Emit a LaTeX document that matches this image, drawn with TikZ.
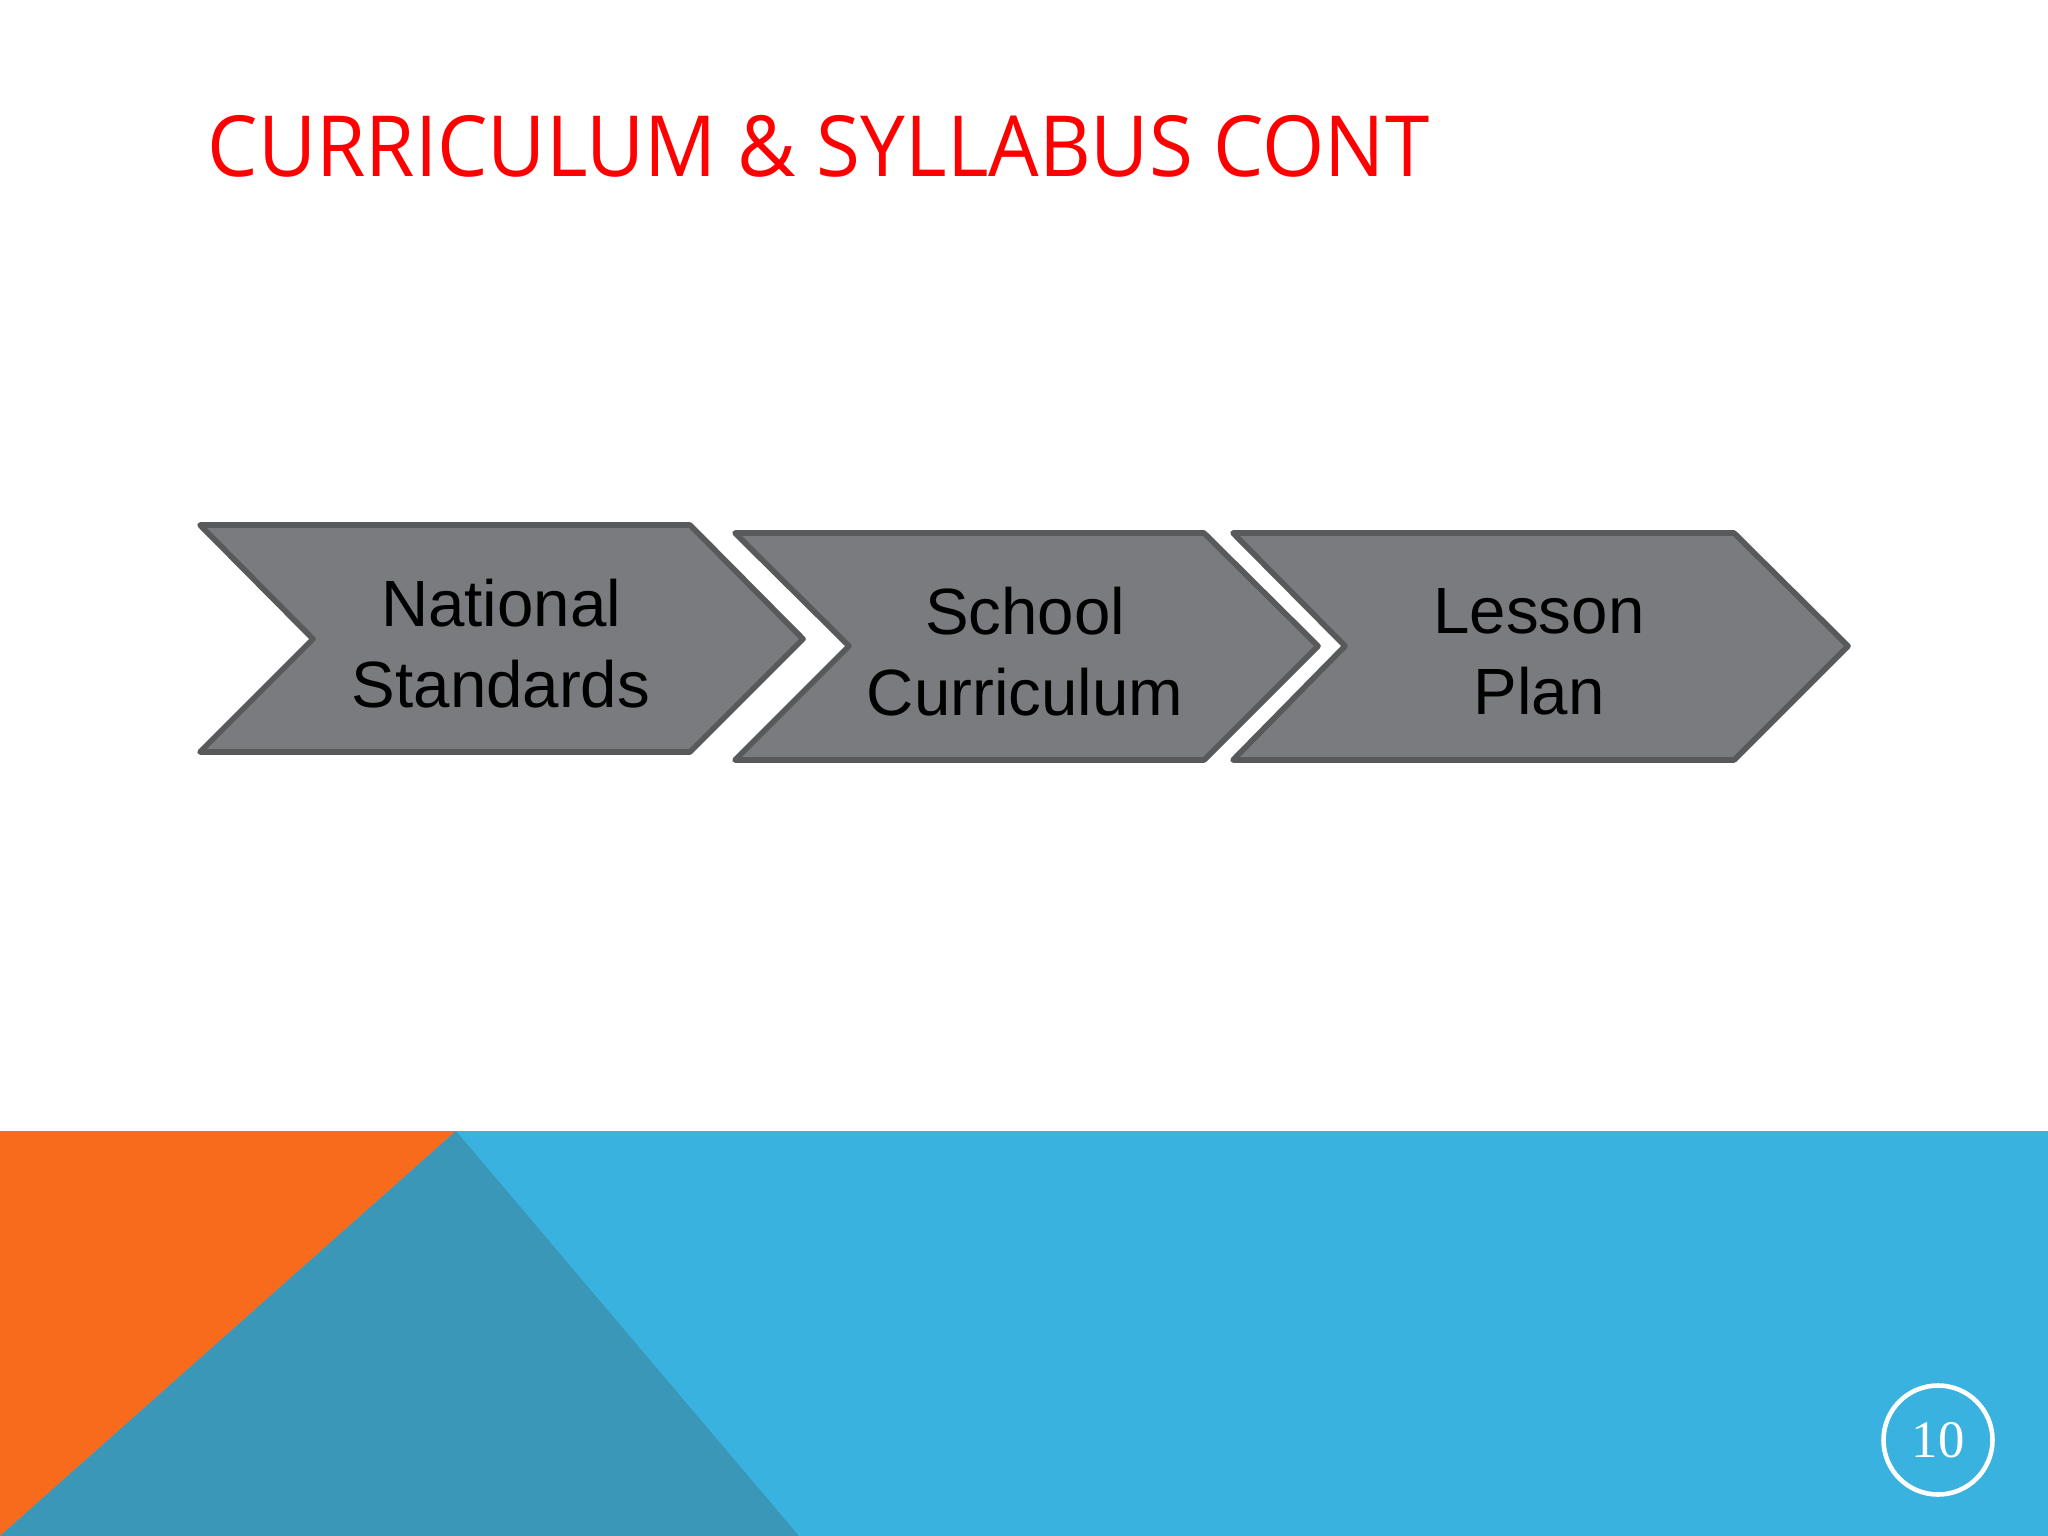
\documentclass[tikz,border=0pt]{standalone}
\usepackage{fontspec}
\setmainfont{Liberation Sans}
\newfontfamily\titlefont[FakeStretch=0.947]{Open Sans}
\newfontfamily\numfont{Liberation Serif}
\definecolor{chevfill}{HTML}{7A7B7E}
\definecolor{chevline}{HTML}{58595B}
\definecolor{bandblue}{HTML}{3AB2E0}
\definecolor{bandorange}{HTML}{F96B1C}
\definecolor{bandteal}{HTML}{3A97B8}
\tikzset{chevron/.style={fill=chevfill,draw=chevline,line width=1.6pt,line join=round}}
\tikzset{label/.style={align=center,text centered,font=\fontsize{18.6}{23}\selectfont}}
\tikzset{title/.style={anchor=base west,text=red,font=\titlefont\fontsize{24}{28}\selectfont,inner sep=0pt}}

\begin{document}
\begin{tikzpicture}[x=0.01cm,y=-0.01cm]
				\useasboundingbox (0,0) rectangle (2048,1536);
				% title
				\node (ttl) [title] at (207,176) {CURRICULUM \& SYLLABUS CONT};
				% the three steps
				\draw [chevron] (200,525) -- (690,525) -- (803,639) -- (690,752) -- (200,752) -- (313,639) -- cycle;
				\draw [chevron] (735,533) -- (1204,533) -- (1318,646) -- (1204,760) -- (735,760) -- (849,646) -- cycle;
				\draw [chevron] (1233,533) -- (1734,533) -- (1848,646) -- (1734,760) -- (1233,760) -- (1345,646) -- cycle;
				\node (natl) [label] at (501,644) {National\\Standards};
				\node (school) [label] at (1025,652) {School\\Curriculum};
				\node (lesson) [label] at (1539,652) {Lesson\\Plan};
				% footer band
				\fill [bandblue] (0,1131) rectangle (2048,1536);
				\fill [bandorange] (0,1131) -- (456,1131) -- (0,1536) -- cycle;
				\fill [bandteal] (456,1131) -- (799,1536) -- (0,1536) -- cycle;
				\node (page) [circle,draw=white,line width=1.3pt,minimum size=31pt,text=white,font=\numfont\fontsize{15}{18}\selectfont] at (1938,1440) {10};
			\end{tikzpicture}
\end{document}
